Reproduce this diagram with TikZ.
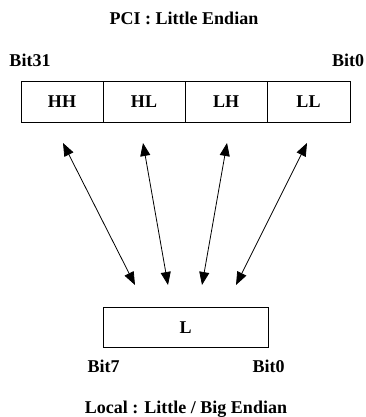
\documentclass[tikz,border=0pt]{standalone}
\usepackage{fontspec}
\setmainfont{Liberation Serif}
\usetikzlibrary{arrows.meta}
\tikzset{
  cell/.style={draw, line width=0.9pt, minimum height=40.5pt, inner sep=0pt, font=\fontsize{18}{18}\selectfont\bfseries},
  lbl/.style={inner sep=0pt, anchor=base, font=\fontsize{18}{18}\selectfont\bfseries},
  dbl/.style={line width=0.8pt, {Triangle[length=13pt,width=10pt]}-{Triangle[length=13pt,width=10pt]}}
}
\begin{document}
\begin{tikzpicture}[x=1pt,y=-1pt]
\useasboundingbox (0,0) rectangle (366,417);
\node[lbl] (title) at (184,25) {PCI : Little Endian};
\node[lbl] (b31) at (30,66.5) {Bit31};
\node[lbl] (b0a) at (348,66.5) {Bit0};
\node[cell, minimum width=82pt] (hh) at (62,102) {HH};
\node[cell, minimum width=82pt] (hl) at (144,102) {HL};
\node[cell, minimum width=82pt] (lh) at (226,102) {LH};
\node[cell, minimum width=83pt] (ll) at (308.5,102) {LL};
\node[cell, minimum width=165pt] (l) at (185.5,327.5) {L};
\node[lbl] (b7) at (103.5,372) {Bit7};
\node[lbl] (b0b) at (268.5,372) {Bit0};
\node[lbl] (sub) at (186,413) {Local : Little / Big Endian};
\coordinate (t1) at (63,143);
\coordinate (t2) at (143,143);
\coordinate (t3) at (227,143);
\coordinate (t4) at (307,143);
\coordinate (u1) at (135,285);
\coordinate (u2) at (168,285);
\coordinate (u3) at (202,285);
\coordinate (u4) at (236,285);
\draw[dbl] (t1) -- (u1);
\draw[dbl] (t2) -- (u2);
\draw[dbl] (t3) -- (u3);
\draw[dbl] (t4) -- (u4);
\end{tikzpicture}
\end{document}
